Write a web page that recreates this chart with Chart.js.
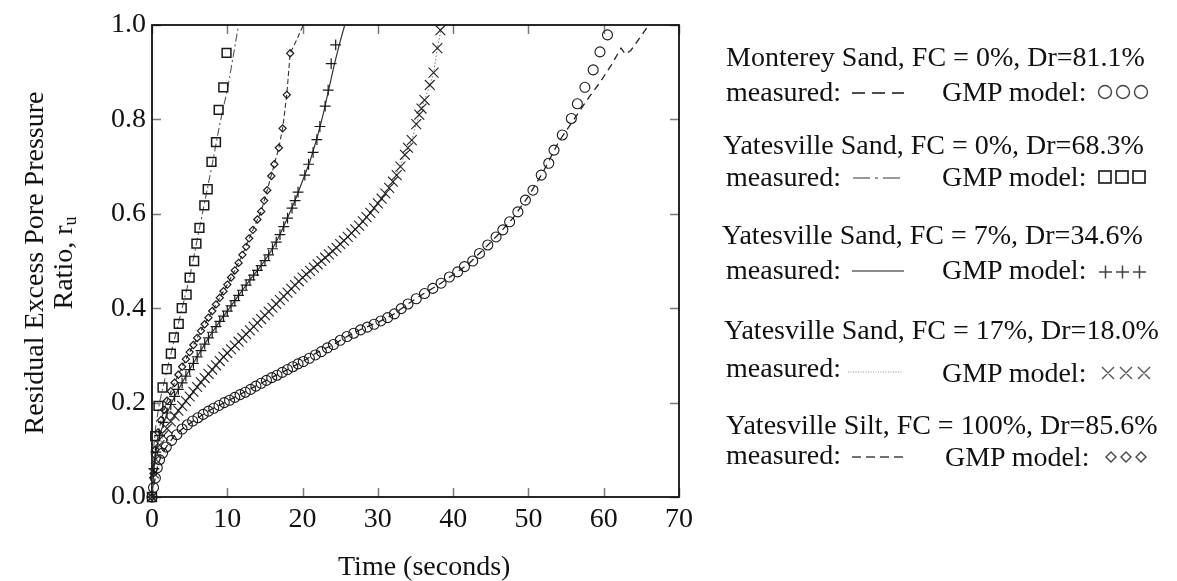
<!DOCTYPE html>
<html>
<head>
<meta charset="utf-8">
<script src="https://cdn.jsdelivr.net/npm/chart.js@4.4.1/dist/chart.umd.min.js"></script>
<style>
  html, body { margin: 0; padding: 0; background: #fff; }
  #wrap { position: relative; width: 1177px; height: 581px; overflow: hidden;
          font-family: "Liberation Serif", "Times New Roman", serif; color: #111; }
  #chart { position: absolute; left: 0; top: 0; }
  .t { position: absolute; font-size: 28px; line-height: 32px; white-space: nowrap; }
  .s { position: absolute; overflow: visible; }
  #ytitle { position: absolute; left: 48px; top: 263px; width: 480px; text-align: center;
            font-size: 28px; line-height: 29px; transform: translate(-50%, -50%) rotate(-90deg); }
  #ytitle sub { font-size: 18px; vertical-align: -4px; line-height: 0; }
</style>
</head>
<body>
<div id="wrap">
  <canvas id="chart" width="1177" height="581"></canvas>

  <div id="ytitle">Residual Excess Pore Pressure<br>Ratio, r<sub>u</sub></div>
  <div class="t" style="left:338px; top:550px;">Time (seconds)</div>

  <!-- sample key -->
  <div class="t" style="left:726px; top:41px;">Monterey Sand, FC = 0%, Dr=81.1%</div>
  <div class="t" style="left:726px; top:76px;">measured:</div>
  <svg class="s" style="left:852px; top:88px;" width="52" height="10"><line x1="0" y1="5" x2="52" y2="5" stroke="#111" stroke-width="1.5" stroke-dasharray="13 7"/></svg>
  <div class="t" style="left:942px; top:76px;">GMP model:</div>
  <svg class="s" style="left:1096px; top:83px;" width="60" height="18">
    <circle cx="9" cy="9" r="6.5" fill="none" stroke="#444" stroke-width="1.4"/>
    <circle cx="27" cy="9" r="6.5" fill="none" stroke="#444" stroke-width="1.4"/>
    <circle cx="45" cy="9" r="6.5" fill="none" stroke="#444" stroke-width="1.4"/>
  </svg>

  <div class="t" style="left:723px; top:129px;">Yatesville Sand, FC = 0%, Dr=68.3%</div>
  <div class="t" style="left:726px; top:161px;">measured:</div>
  <svg class="s" style="left:853px; top:173px;" width="50" height="10"><line x1="0" y1="5" x2="50" y2="5" stroke="#9a9a9a" stroke-width="2" stroke-dasharray="17 5 3 5"/></svg>
  <div class="t" style="left:942px; top:161px;">GMP model:</div>
  <svg class="s" style="left:1096px; top:168px;" width="60" height="18">
    <rect x="3" y="3" width="12" height="12" fill="none" stroke="#222" stroke-width="1.7"/>
    <rect x="20" y="3" width="12" height="12" fill="none" stroke="#222" stroke-width="1.7"/>
    <rect x="37" y="3" width="12" height="12" fill="none" stroke="#222" stroke-width="1.7"/>
  </svg>

  <div class="t" style="left:722px; top:219px;">Yatesville Sand, FC = 7%, Dr=34.6%</div>
  <div class="t" style="left:726px; top:254px;">measured:</div>
  <svg class="s" style="left:852px; top:266px;" width="52" height="10"><line x1="0" y1="5" x2="52" y2="5" stroke="#8a8a8a" stroke-width="2"/></svg>
  <div class="t" style="left:942px; top:254px;">GMP model:</div>
  <svg class="s" style="left:1096px; top:263px;" width="60" height="18">
    <path d="M3 9H16M9.5 2.5V15.5M20 9H33M26.5 2.5V15.5M37 9H50M43.5 2.5V15.5" stroke="#444" stroke-width="1.5" fill="none"/>
  </svg>

  <div class="t" style="left:724px; top:314px;">Yatesville Sand, FC = 17%, Dr=18.0%</div>
  <div class="t" style="left:726px; top:352px;">measured:</div>
  <svg class="s" style="left:848px; top:367px;" width="55" height="10"><line x1="0" y1="5" x2="55" y2="5" stroke="#999" stroke-width="1.2" stroke-dasharray="1 1.5"/></svg>
  <div class="t" style="left:942px; top:357px;">GMP model:</div>
  <svg class="s" style="left:1099px; top:364px;" width="60" height="18">
    <path d="M3 3L15 15M15 3L3 15M21 3L33 15M33 3L21 15M39 3L51 15M51 3L39 15" stroke="#555" stroke-width="1.4" fill="none"/>
  </svg>

  <div class="t" style="left:726px; top:409px;">Yatesville Silt, FC = 100%, Dr=85.6%</div>
  <div class="t" style="left:726px; top:439px;">measured:</div>
  <svg class="s" style="left:852px; top:452px;" width="51" height="10"><line x1="0" y1="5" x2="51" y2="5" stroke="#444" stroke-width="1.5" stroke-dasharray="9 5"/></svg>
  <div class="t" style="left:945px; top:441px;">GMP model:</div>
  <svg class="s" style="left:1102px; top:448px;" width="56" height="18">
    <path d="M9 4L14 9L9 14L4 9Z M24 4L29 9L24 14L19 9Z M39 4L44 9L39 14L34 9Z" stroke="#444" stroke-width="1.4" fill="none"/>
  </svg>
</div>

<script>
// time (s) vs residual excess pore pressure ratio, [t, ru]
const montereyMeasured = [[0,0],[0.3,0.03],[0.7,0.062],[1.2,0.087],[2,0.109],[3,0.13],[4,0.144],[6,0.167],[8,0.187],[10,0.203],[12,0.22],[14,0.237],[16,0.254],[18,0.27],[20,0.287],[22,0.307],[24,0.322],[26,0.341],[28,0.357],[30,0.37],[32,0.386],[34,0.409],[36,0.43],[38,0.449],[40,0.471],[42,0.493],[44,0.524],[46,0.556],[48,0.592],[50,0.637],[52,0.69],[54,0.752],[56.3,0.806],[58,0.846],[59.4,0.876],[61,0.915],[62.3,0.951],[62.9,0.938],[63.6,0.946],[66,1.0]];
const montereyModel = [[0,0],[0.2,0.02],[0.45,0.04],[0.7,0.062],[1.0,0.079],[1.4,0.093],[1.9,0.106],[2.6,0.12],[3.3,0.132],[4.0,0.144],[4.7,0.153],[5.4,0.161],[6.1,0.168],[6.8,0.175],[7.5,0.182],[8.2,0.188],[8.9,0.194],[9.6,0.2],[10.3,0.205],[11.0,0.211],[11.7,0.217],[12.4,0.222],[13.1,0.228],[13.8,0.235],[14.5,0.241],[15.2,0.247],[15.9,0.253],[16.6,0.258],[17.3,0.264],[18.0,0.27],[18.7,0.276],[19.4,0.282],[20.1,0.287],[20.9,0.294],[21.7,0.301],[22.5,0.308],[23.3,0.316],[24.1,0.323],[25.0,0.332],[25.9,0.34],[26.8,0.347],[27.7,0.354],[28.6,0.36],[29.5,0.366],[30.4,0.373],[31.3,0.38],[32.2,0.388],[33.1,0.399],[34.0,0.409],[35.1,0.42],[36.2,0.431],[37.3,0.442],[38.4,0.453],[39.5,0.466],[40.6,0.477],[41.5,0.488],[42.6,0.5],[43.5,0.516],[44.6,0.534],[45.7,0.551],[46.6,0.566],[47.5,0.583],[48.6,0.604],[49.6,0.629],[50.6,0.65],[51.7,0.682],[52.7,0.707],[53.4,0.735],[54.5,0.767],[55.7,0.802],[56.5,0.833],[57.5,0.868],[58.6,0.905],[59.5,0.943],[60.5,0.979]];

const sand0Measured = [[0,0],[0.2,0.1],[0.5,0.15],[1,0.2],[2,0.27],[3,0.335],[4,0.4],[5,0.465],[6,0.545],[7,0.625],[8,0.705],[9,0.79],[10.1,0.87],[11.5,1.0]];
const sand0Model = [[0,0],[0.42,0.129],[0.86,0.193],[1.4,0.232],[1.96,0.271],[2.5,0.304],[2.9,0.338],[3.55,0.367],[3.95,0.4],[4.6,0.429],[5.0,0.465],[5.6,0.5],[5.9,0.537],[6.3,0.57],[6.95,0.618],[7.4,0.652],[7.9,0.71],[8.5,0.752],[8.85,0.82],[9.47,0.868],[9.9,0.941]];

const sand7Measured = [[0,0],[0.25,0.06],[0.5,0.095],[1,0.13],[2,0.178],[3,0.213],[4,0.242],[5,0.27],[6,0.297],[7,0.324],[8,0.349],[9,0.372],[10,0.394],[11,0.416],[12,0.438],[13,0.46],[14,0.48],[15,0.501],[16,0.526],[17,0.556],[18,0.591],[19,0.628],[20,0.67],[21,0.712],[22,0.765],[22.8,0.815],[23.5,0.865],[24.2,0.915],[24.9,0.96],[25.6,1.0]];
const sand7Model = [[0,0],[0.25,0.06],[0.5,0.095],[1.0,0.13],[1.5,0.158],[2.0,0.178],[2.5,0.196],[3.0,0.213],[3.5,0.228],[4.0,0.242],[4.5,0.256],[5.0,0.27],[5.5,0.283],[6.0,0.297],[6.5,0.31],[7.0,0.324],[7.5,0.337],[8.0,0.349],[8.5,0.361],[9.0,0.372],[9.5,0.383],[10.0,0.394],[10.5,0.405],[11.0,0.416],[11.5,0.427],[12.0,0.438],[12.5,0.449],[13.0,0.46],[13.5,0.47],[14.0,0.48],[14.5,0.49],[15.0,0.501],[15.5,0.513],[16.0,0.526],[16.5,0.54],[17.0,0.556],[17.5,0.573],[18.0,0.591],[18.6,0.612],[19.0,0.628],[19.4,0.646],[20.3,0.682],[20.8,0.705],[21.4,0.73],[21.9,0.757],[22.3,0.785],[23.0,0.828],[23.4,0.862],[23.8,0.918],[24.4,0.958]];

const sand17Measured = [[0,0],[0.25,0.05],[0.5,0.08],[1,0.11],[2,0.145],[3,0.172],[4,0.193],[6,0.233],[8,0.27],[10,0.305],[12,0.337],[14,0.369],[16,0.401],[18,0.433],[20,0.465],[22,0.493],[24,0.521],[26,0.551],[28,0.584],[30,0.622],[32,0.668],[33.6,0.725],[34.5,0.756],[35.1,0.79],[35.8,0.823],[36.9,0.873],[37.4,0.899],[37.9,0.951],[38.5,1.0]];
const sand17Model = [[0,0],[0.25,0.05],[0.5,0.08],[1.0,0.11],[1.5,0.13],[2.0,0.145],[2.5,0.16],[3.0,0.172],[3.5,0.183],[4.0,0.193],[4.5,0.203],[5.0,0.213],[5.5,0.223],[6.0,0.233],[6.5,0.243],[7.0,0.252],[7.5,0.261],[8.0,0.27],[8.5,0.279],[9.0,0.288],[9.5,0.297],[10.0,0.305],[10.5,0.313],[11.0,0.321],[11.5,0.329],[12.0,0.337],[12.5,0.345],[13.0,0.353],[13.5,0.361],[14.0,0.369],[14.5,0.377],[15.0,0.385],[15.5,0.393],[16.0,0.401],[16.5,0.409],[17.0,0.417],[17.5,0.425],[18.0,0.433],[18.5,0.441],[19.0,0.449],[19.5,0.457],[20.0,0.465],[20.5,0.472],[21.0,0.479],[21.5,0.486],[22.0,0.493],[22.5,0.5],[23.0,0.507],[23.5,0.514],[24.0,0.521],[24.5,0.528],[25.0,0.536],[25.5,0.543],[26.0,0.551],[26.5,0.559],[27.0,0.567],[27.5,0.575],[28.0,0.584],[28.5,0.593],[29.0,0.602],[29.5,0.612],[30.0,0.622],[30.5,0.632],[31.0,0.643],[31.5,0.655],[32.0,0.668],[32.5,0.682],[33.0,0.7],[33.6,0.725],[34.0,0.74],[34.5,0.756],[35.1,0.79],[35.5,0.81],[35.8,0.823],[36.2,0.841],[36.9,0.873],[37.4,0.899],[37.9,0.951],[38.3,0.989]];

const siltMeasured = [[0,0],[0.45,0.1],[1.2,0.163],[2,0.204],[3,0.242],[4,0.276],[5,0.307],[6,0.337],[7,0.366],[8,0.394],[9,0.422],[10,0.45],[11,0.48],[12,0.513],[13.4,0.566],[14.5,0.605],[15.3,0.65],[16.25,0.705],[16.85,0.74],[17.35,0.781],[17.9,0.852],[18.35,0.94],[19.2,0.968],[20.1,1.0]];
const siltModel = [[0,0],[0.2,0.05],[0.45,0.1],[0.8,0.137],[1.2,0.163],[1.6,0.185],[2.0,0.204],[2.5,0.224],[3.0,0.242],[3.5,0.259],[4.0,0.276],[4.5,0.292],[5.0,0.307],[5.5,0.322],[6.0,0.337],[6.5,0.352],[7.0,0.366],[7.5,0.38],[8.0,0.394],[8.5,0.408],[9.0,0.422],[9.5,0.436],[10.0,0.45],[10.5,0.465],[11.0,0.48],[11.5,0.496],[12.0,0.513],[12.5,0.53],[12.9,0.548],[13.4,0.566],[14.0,0.588],[14.5,0.605],[14.9,0.628],[15.3,0.65],[15.85,0.68],[16.25,0.705],[16.85,0.74],[17.35,0.781],[17.9,0.852],[18.35,0.94]];

const timeTicks = { min: 0, max: 70, step: 10 };
const ratioTicks = { min: 0, max: 1, step: 0.2 };

const SERIF = '"Liberation Serif", "Times New Roman", serif';
Chart.defaults.font.family = SERIF;

const toPoints = (rows) => rows.map(([x, y]) => ({ x, y }));

const measuredLine = (rows, color, dash, width) => ({
    data: toPoints(rows),
    showLine: true,
    pointRadius: 0,
    borderColor: color,
    borderWidth: width,
    borderDash: dash,
    fill: false,
    tension: 0,
    order: 2,
});

const modelPoints = (rows, style, radius, width, color) => ({
    data: toPoints(rows),
    showLine: false,
    pointStyle: style,
    pointRadius: radius,
    pointBorderColor: color || "#1a1a1a",
    pointBackgroundColor: "rgba(0,0,0,0)",
    pointBorderWidth: width,
    clip: 10,
    order: 1,
});

// box around the plot with inward tick marks on every side
const frame = {
    id: "frame",
    beforeDatasetsDraw(chart) {
        const { ctx, chartArea: a, scales } = chart;
        const len = 9;
        ctx.save();
        ctx.strokeStyle = "#7a7a7a";
        ctx.lineWidth = 1.5;
        ctx.beginPath();
        scales.x.ticks.forEach((t) => {
            const px = Math.round(scales.x.getPixelForValue(t.value)) + 0.5;
            ctx.moveTo(px, a.bottom); ctx.lineTo(px, a.bottom - len);
            ctx.moveTo(px, a.top); ctx.lineTo(px, a.top + len);
        });
        scales.y.ticks.forEach((t) => {
            const py = Math.round(scales.y.getPixelForValue(t.value)) + 0.5;
            ctx.moveTo(a.left, py); ctx.lineTo(a.left + len, py);
            ctx.moveTo(a.right, py); ctx.lineTo(a.right - len, py);
        });
        ctx.stroke();
        ctx.strokeStyle = "#111";
        ctx.lineWidth = 1.8;
        ctx.strokeRect(a.left, a.top, a.right - a.left, a.bottom - a.top);
        ctx.restore();
    },
};

const tickFont = { family: SERIF, size: 28 };

new Chart(document.getElementById("chart"), {
    type: "scatter",
    data: {
        datasets: [
            modelPoints(montereyModel, "circle", 5, 1.1),
            modelPoints(sand0Model, "rect", 6.2, 1.5),
            modelPoints(sand7Model, "cross", 5.4, 1.2),
            modelPoints(sand17Model, "crossRot", 7, 1.1, "#222"),
            modelPoints(siltModel, "rectRot", 3.6, 1.2),
            measuredLine(montereyMeasured, "#222", [7, 5], 1.3),
            measuredLine(sand0Measured, "#555", [8, 3, 2, 3], 1.1),
            measuredLine(sand7Measured, "#333", [], 1.2),
            measuredLine(sand17Measured, "#777", [1.5, 2], 1),
            measuredLine(siltMeasured, "#333", [5, 3], 1.1),
        ],
    },
    options: {
        responsive: false,
        animation: false,
        events: [],
        layout: { padding: { top: 25, right: 1177 - 679, left: 0, bottom: 0 } },
        plugins: { legend: { display: false }, tooltip: { enabled: false } },
        scales: {
            x: {
                type: "linear",
                min: timeTicks.min,
                max: timeTicks.max,
                ticks: { stepSize: timeTicks.step, font: tickFont, color: "#111", padding: 6, maxRotation: 0 },
                grid: { display: false, drawTicks: false },
                border: { display: false },
                afterFit: (s) => { s.height = 84; },
            },
            y: {
                type: "linear",
                min: ratioTicks.min,
                max: ratioTicks.max,
                ticks: { stepSize: ratioTicks.step, font: tickFont, color: "#111", padding: 6,
                         callback: (v) => Number(v).toFixed(1) },
                grid: { display: false, drawTicks: false },
                border: { display: false },
                afterFit: (s) => { s.width = 152; },
            },
        },
    },
    plugins: [frame],
});
</script>
</body>
</html>
